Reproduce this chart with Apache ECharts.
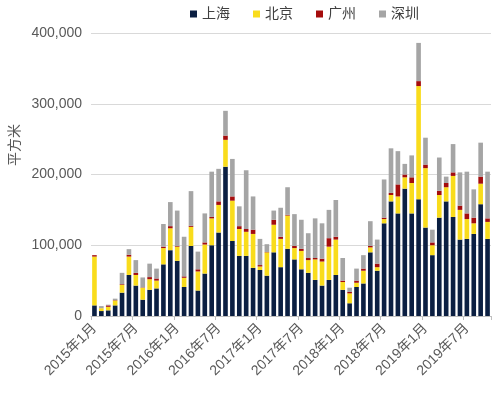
<!DOCTYPE html>
<html><head><meta charset="utf-8">
<script src="https://cdn.jsdelivr.net/npm/echarts@6/dist/echarts.min.js"></script>
<style>html,body{margin:0;padding:0;background:#fff}#c{width:500px;height:393px}</style>
</head><body><div id="c"></div>
<script>
const categories = [
'2015年1月','2015年2月','2015年3月','2015年4月','2015年5月','2015年6月','2015年7月','2015年8月','2015年9月','2015年10月','2015年11月','2015年12月',
'2016年1月','2016年2月','2016年3月','2016年4月','2016年5月','2016年6月','2016年7月','2016年8月','2016年9月','2016年10月','2016年11月','2016年12月',
'2017年1月','2017年2月','2017年3月','2017年4月','2017年5月','2017年6月','2017年7月','2017年8月','2017年9月','2017年10月','2017年11月','2017年12月',
'2018年1月','2018年2月','2018年3月','2018年4月','2018年5月','2018年6月','2018年7月','2018年8月','2018年9月','2018年10月','2018年11月','2018年12月',
'2019年1月','2019年2月','2019年3月','2019年4月','2019年5月','2019年6月','2019年7月','2019年8月','2019年9月','2019年10月'];
const shanghai = [15000,7000,8000,15000,33000,58000,43000,23000,37000,39000,73000,93000,
78000,41000,99000,36000,60000,100000,118000,211000,106000,85000,85000,68000,
65000,57000,90000,69000,95000,80000,66000,61000,51000,43000,51000,58000,
37000,18000,41000,46000,90000,64000,131000,162000,145000,180000,145000,165000,
125000,86000,139000,162000,140000,108000,109000,116000,158000,109000];
const beijing = [69000,4000,5000,7000,11000,26000,15000,17000,15000,11000,23000,31000,
20000,13000,27000,27000,41000,38000,39000,38000,57000,38000,34000,48000,
5000,33000,39000,40000,47000,16000,26000,18000,29000,34000,47000,50000,
11000,14000,6000,18000,7000,5000,6000,9000,24000,16000,43000,160000,
84000,14000,32000,20000,58000,42000,28000,15000,29000,24000];
const guangzhou = [2000,0,2000,500,1000,2500,3000,500,3000,3000,2000,3000,
1000,2000,1500,3000,3000,2000,5000,6000,6000,4000,4000,6000,
2000,500,7000,3000,1000,3000,3000,3000,2000,4000,12000,4000,
2000,2000,3000,3000,2000,5000,2000,3000,17000,4000,8000,7000,
5000,4000,6000,6000,5000,6000,8000,8000,10000,5000];
const shenzhen = [0,3000,1000,2000,16000,8000,18000,14000,19000,14000,32000,34000,
50000,56000,49000,25000,41000,64000,46000,35000,53000,28000,83000,47000,
37000,11000,13000,41000,39000,45000,41000,35000,56000,50000,40000,52000,
32000,6000,17000,19000,35000,34000,54000,63000,47000,15000,31000,54000,
38000,18000,47000,9000,40000,47000,59000,40000,48000,66000];
const yTicks = [0,100000,200000,300000,400000];

const FONT = 'Liberation Sans, Arial, Noto Sans CJK SC, sans-serif';
const chart = echarts.init(document.getElementById('c'), null, {renderer:'canvas'});
const mk = (name, data, color) => ({name, type:'bar', stack:'t', data, barCategoryGap:'33%',
  itemStyle:{color}, emphasis:{disabled:true}});
chart.setOption({
  animation:false,
  textStyle:{fontFamily:FONT},
  legend:{left:190, top:7, itemWidth:7, itemHeight:7, itemGap:23, icon:'rect',
    textStyle:{fontSize:14, color:'#404040', fontFamily:FONT}, padding:0},
  grid:{left:91, right:9, top:33, bottom:77, containLabel:false},
  graphic:[{type:'text', x:15, y:145, rotation:Math.PI/2,
    style:{text:'平方米', fontSize:14, fill:'#595959', fontFamily:FONT, align:'center', verticalAlign:'middle'}}],
  xAxis:{type:'category', data:categories,
    axisLine:{lineStyle:{color:'#bfbfbf'}},
    axisTick:{show:true, interval:5, length:4, lineStyle:{color:'#bfbfbf'}},
    axisLabel:{interval:5, rotate:45, fontSize:14, color:'#595959', margin:10, fontFamily:FONT}},
  yAxis:{type:'value', min:0, max:400000, interval:100000,
    axisLine:{show:false}, axisTick:{show:false},
    splitLine:{lineStyle:{color:'#d9d9d9'}},
    axisLabel:{fontSize:14, color:'#595959', margin:9, fontFamily:FONT,
      formatter:v=> yTicks.includes(v) ? v.toLocaleString('en-US') : ''}},
  series:[mk('上海',shanghai,'#0b1f42'), mk('北京',beijing,'#f9dc1c'),
          mk('广州',guangzhou,'#a50d0d'), mk('深圳',shenzhen,'#a5a5a5')]
});
</script></body></html>
